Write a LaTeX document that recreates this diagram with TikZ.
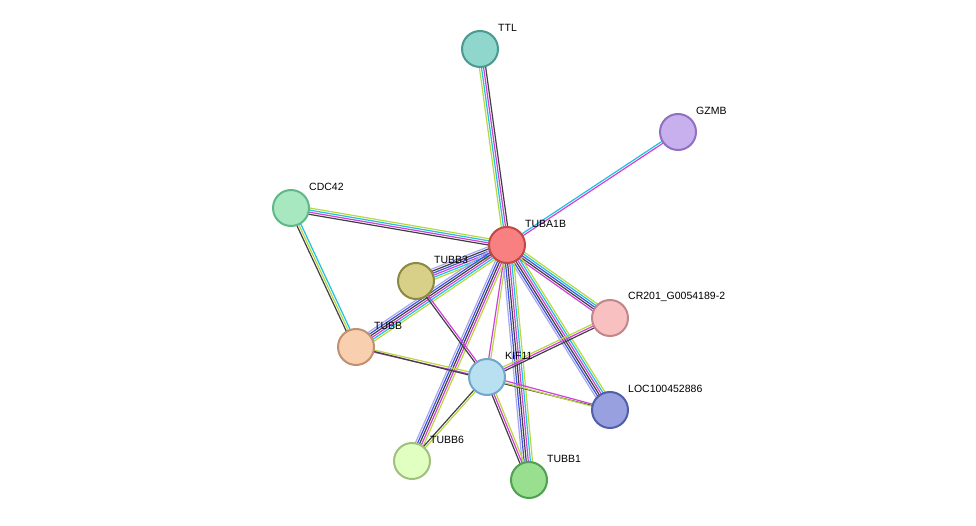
\documentclass[tikz,border=0pt]{standalone}
\usepackage{fontspec}
\setmainfont{Liberation Sans}
\usetikzlibrary{calc}
\definecolor{db}{HTML}{20C0E0}
\definecolor{ex}{HTML}{D040D8}
\definecolor{tm}{HTML}{B8D840}
\definecolor{co}{HTML}{404040}
\definecolor{oc}{HTML}{4050E0}
\definecolor{ho}{HTML}{A8A8F0}
\newcommand\bundle[3]{%
  \foreach \c [count=\i] in {#3} {\xdef\nb{\i}}
  \foreach \c [count=\i] in {#3} {
    \pgfmathsetmacro\off{(\i-(\nb+1)/2)*2.1}
    \draw[\c,line width=1.2pt] ($(#1)!\off pt!90:(#2)$) -- ($(#2)!\off pt!-90:(#1)$);}}
\begin{document}
\begin{tikzpicture}[x=1pt,y=-1pt]
\tikzstyle{prot}=[circle,minimum size=36pt,line width=2pt,inner sep=0pt]
\tikzstyle{lbl}=[font=\fontsize{10.5}{12}\selectfont,anchor=west,inner sep=0pt]
\useasboundingbox (0,0) rectangle (976,526);

% node centres
\coordinate (ttl) at (480,49);
\coordinate (gzmb) at (678,132);
\coordinate (cdc) at (291,208);
\coordinate (tuba) at (507,245);
\coordinate (tubb3) at (416,281);
\coordinate (cr) at (610,318);
\coordinate (tubb) at (356,347);
\coordinate (kif) at (487,377);
\coordinate (loc) at (610,410);
\coordinate (tubb6) at (412,461);
\coordinate (tubb1) at (529,480);

% edges
\bundle{ttl}{tuba}{tm,db,ex,co}
\bundle{gzmb}{tuba}{db,ex}
\bundle{cdc}{tuba}{co,ex,db,tm}
\bundle{cdc}{tubb}{co,tm,db}
\bundle{tuba}{tubb3}{ho,co,oc,ex,db,tm}
\bundle{tuba}{tubb}{ho,oc,co,ex,db,tm}
\bundle{tuba}{kif}{ex,tm}
\bundle{tuba}{cr}{ex,co,oc,db,tm}
\bundle{tuba}{loc}{ho,oc,co,ex,db,tm}
\bundle{tuba}{tubb6}{ho,oc,co,ex,tm}
\bundle{tuba}{tubb1}{ho,oc,co,ex,db,tm}
\bundle{tubb3}{kif}{co,ex}
\bundle{tubb}{kif}{ex,tm}
\bundle{tubb}{loc}{co}
\bundle{kif}{cr}{co,ex,tm}
\bundle{kif}{loc}{tm,ex}
\bundle{kif}{tubb6}{co,tm}
\bundle{kif}{tubb1}{co,ex,tm}

% nodes
\node[prot,fill={rgb,255:red,143;green,214;blue,204},draw={rgb,255:red,74;green,154;blue,144}] (n-ttl) at (ttl) {};
\node[prot,fill={rgb,255:red,200;green,176;blue,239},draw={rgb,255:red,144;green,112;blue,192}] (n-gzmb) at (gzmb) {};
\node[prot,fill={rgb,255:red,168;green,232;blue,192},draw={rgb,255:red,96;green,184;blue,136}] (n-cdc) at (cdc) {};
\node[prot,fill={rgb,255:red,248;green,128;blue,128},draw={rgb,255:red,192;green,72;blue,72}] (n-tuba) at (tuba) {};
\node[prot,fill={rgb,255:red,216;green,208;blue,136},draw={rgb,255:red,138;green,138;blue,64}] (n-tubb3) at (tubb3) {};
\node[prot,fill={rgb,255:red,248;green,192;blue,192},draw={rgb,255:red,192;green,136;blue,136}] (n-cr) at (cr) {};
\node[prot,fill={rgb,255:red,248;green,208;blue,176},draw={rgb,255:red,192;green,144;blue,112}] (n-tubb) at (tubb) {};
\node[prot,fill={rgb,255:red,184;green,224;blue,240},draw={rgb,255:red,112;green,168;blue,200}] (n-kif) at (kif) {};
\node[prot,fill={rgb,255:red,152;green,160;blue,224},draw={rgb,255:red,80;green,96;blue,168}] (n-loc) at (loc) {};
\node[prot,fill={rgb,255:red,224;green,255;blue,192},draw={rgb,255:red,160;green,192;blue,128}] (n-tubb6) at (tubb6) {};
\node[prot,fill={rgb,255:red,152;green,224;blue,144},draw={rgb,255:red,80;green,160;blue,80}] (n-tubb1) at (tubb1) {};

% labels
\foreach \n/\t in {ttl/TTL,gzmb/GZMB,cdc/CDC42,tuba/TUBA1B,tubb3/TUBB3,cr/CR201\_G0054189-2,
  tubb/TUBB,kif/KIF11,loc/LOC100452886,tubb6/TUBB6,tubb1/TUBB1}
  \node[lbl] (l-\n) at ($(\n)+(18,-21)$) {\t};
\end{tikzpicture}
\end{document}
